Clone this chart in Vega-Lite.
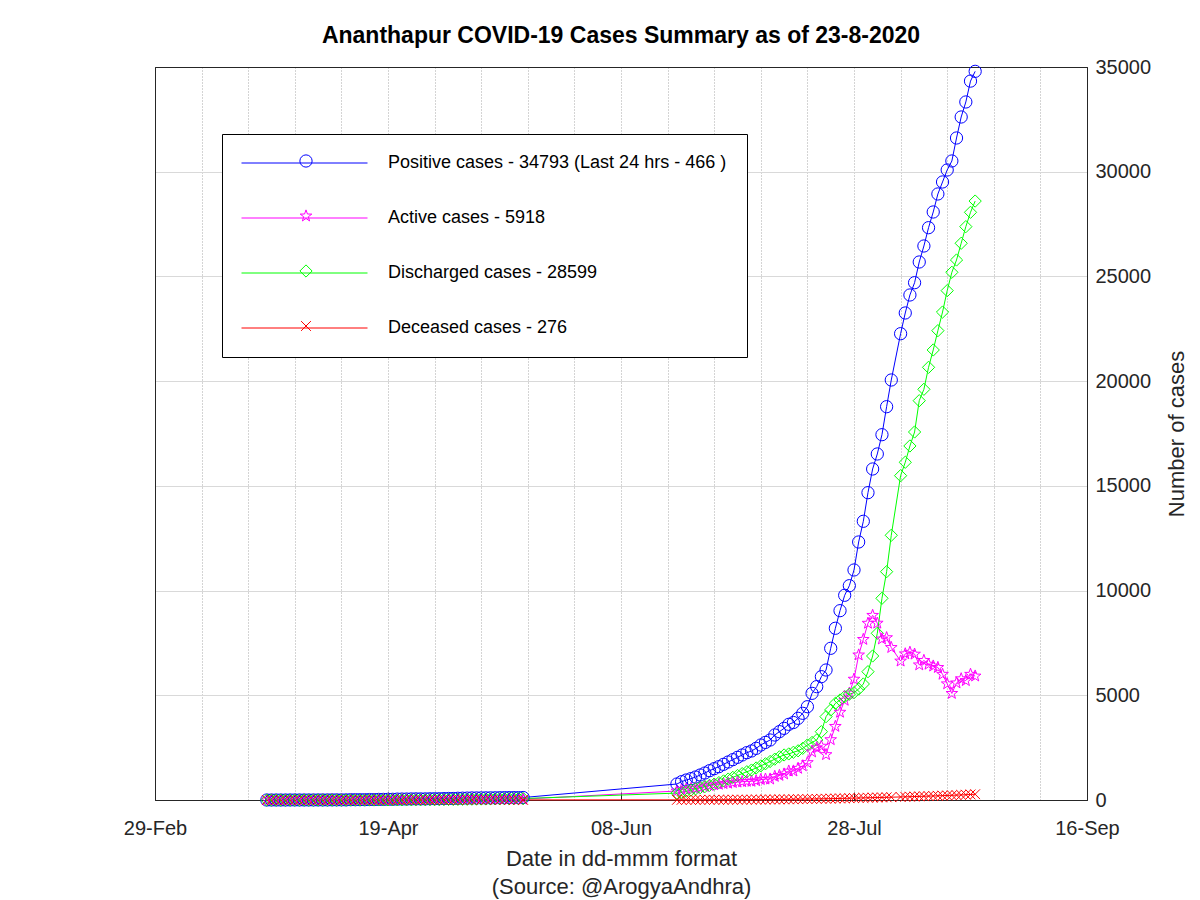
{
  "$schema": "https://vega.github.io/schema/vega-lite/v6.json",
  "width": 932,
  "height": 733,
  "autosize": {"type": "none"},
  "padding": {"left": 155, "top": 67, "right": 113, "bottom": 100},
  "background": "white",
  "config": {
    "font": "Liberation Sans",
    "view": {"stroke": "#262626", "strokeWidth": 1},
    "axis": {"labelFont": "Liberation Sans", "titleFont": "Liberation Sans", "labelColor": "#262626", "titleColor": "#262626", "titleFontWeight": "normal", "domainColor": "#262626", "domainWidth": 1}
  },
  "title": {"text": "Ananthapur COVID-19 Cases Summary as of 23-8-2020", "fontSize": 23, "font": "Liberation Sans", "fontWeight": "bold", "color": "#000000", "anchor": "middle", "baseline": "middle", "offset": 4, "dy": 6, "frame": "group"},
  "data": {"values": [
    {"date": "2020-03-24", "Positive": 0, "Active": 0, "Discharged": 0, "Deceased": 0},
    {"date": "2020-03-25", "Positive": 0, "Active": 0, "Discharged": 0, "Deceased": 0},
    {"date": "2020-03-26", "Positive": 0, "Active": 0, "Discharged": 0, "Deceased": 0},
    {"date": "2020-03-27", "Positive": 0, "Active": 0, "Discharged": 0, "Deceased": 0},
    {"date": "2020-03-28", "Positive": 0, "Active": 0, "Discharged": 0, "Deceased": 0},
    {"date": "2020-03-29", "Positive": 2, "Active": 2, "Discharged": 0, "Deceased": 0},
    {"date": "2020-03-30", "Positive": 2, "Active": 2, "Discharged": 0, "Deceased": 0},
    {"date": "2020-03-31", "Positive": 2, "Active": 2, "Discharged": 0, "Deceased": 0},
    {"date": "2020-04-01", "Positive": 2, "Active": 2, "Discharged": 0, "Deceased": 0},
    {"date": "2020-04-02", "Positive": 2, "Active": 2, "Discharged": 0, "Deceased": 0},
    {"date": "2020-04-03", "Positive": 2, "Active": 2, "Discharged": 0, "Deceased": 0},
    {"date": "2020-04-04", "Positive": 3, "Active": 3, "Discharged": 0, "Deceased": 0},
    {"date": "2020-04-05", "Positive": 3, "Active": 3, "Discharged": 0, "Deceased": 0},
    {"date": "2020-04-06", "Positive": 3, "Active": 3, "Discharged": 0, "Deceased": 0},
    {"date": "2020-04-07", "Positive": 6, "Active": 5, "Discharged": 0, "Deceased": 1},
    {"date": "2020-04-08", "Positive": 6, "Active": 4, "Discharged": 0, "Deceased": 2},
    {"date": "2020-04-09", "Positive": 6, "Active": 4, "Discharged": 0, "Deceased": 2},
    {"date": "2020-04-10", "Positive": 6, "Active": 4, "Discharged": 0, "Deceased": 2},
    {"date": "2020-04-11", "Positive": 15, "Active": 12, "Discharged": 1, "Deceased": 2},
    {"date": "2020-04-12", "Positive": 15, "Active": 12, "Discharged": 1, "Deceased": 2},
    {"date": "2020-04-13", "Positive": 15, "Active": 10, "Discharged": 2, "Deceased": 3},
    {"date": "2020-04-14", "Positive": 15, "Active": 10, "Discharged": 2, "Deceased": 3},
    {"date": "2020-04-15", "Positive": 21, "Active": 15, "Discharged": 3, "Deceased": 3},
    {"date": "2020-04-16", "Positive": 21, "Active": 15, "Discharged": 3, "Deceased": 3},
    {"date": "2020-04-17", "Positive": 27, "Active": 20, "Discharged": 4, "Deceased": 3},
    {"date": "2020-04-18", "Positive": 28, "Active": 21, "Discharged": 4, "Deceased": 3},
    {"date": "2020-04-19", "Positive": 33, "Active": 24, "Discharged": 5, "Deceased": 4},
    {"date": "2020-04-20", "Positive": 33, "Active": 23, "Discharged": 6, "Deceased": 4},
    {"date": "2020-04-21", "Positive": 42, "Active": 31, "Discharged": 7, "Deceased": 4},
    {"date": "2020-04-22", "Positive": 45, "Active": 32, "Discharged": 9, "Deceased": 4},
    {"date": "2020-04-23", "Positive": 46, "Active": 32, "Discharged": 10, "Deceased": 4},
    {"date": "2020-04-24", "Positive": 51, "Active": 35, "Discharged": 12, "Deceased": 4},
    {"date": "2020-04-25", "Positive": 53, "Active": 35, "Discharged": 14, "Deceased": 4},
    {"date": "2020-04-26", "Positive": 53, "Active": 34, "Discharged": 15, "Deceased": 4},
    {"date": "2020-04-27", "Positive": 53, "Active": 33, "Discharged": 16, "Deceased": 4},
    {"date": "2020-04-28", "Positive": 58, "Active": 36, "Discharged": 18, "Deceased": 4},
    {"date": "2020-04-29", "Positive": 61, "Active": 38, "Discharged": 19, "Deceased": 4},
    {"date": "2020-04-30", "Positive": 61, "Active": 36, "Discharged": 21, "Deceased": 4},
    {"date": "2020-05-01", "Positive": 67, "Active": 39, "Discharged": 24, "Deceased": 4},
    {"date": "2020-05-02", "Positive": 71, "Active": 41, "Discharged": 26, "Deceased": 4},
    {"date": "2020-05-03", "Positive": 71, "Active": 39, "Discharged": 28, "Deceased": 4},
    {"date": "2020-05-04", "Positive": 82, "Active": 47, "Discharged": 31, "Deceased": 4},
    {"date": "2020-05-05", "Positive": 86, "Active": 48, "Discharged": 34, "Deceased": 4},
    {"date": "2020-05-06", "Positive": 91, "Active": 50, "Discharged": 37, "Deceased": 4},
    {"date": "2020-05-07", "Positive": 98, "Active": 54, "Discharged": 40, "Deceased": 4},
    {"date": "2020-05-08", "Positive": 98, "Active": 51, "Discharged": 43, "Deceased": 4},
    {"date": "2020-05-09", "Positive": 100, "Active": 50, "Discharged": 46, "Deceased": 4},
    {"date": "2020-05-10", "Positive": 102, "Active": 49, "Discharged": 49, "Deceased": 4},
    {"date": "2020-05-11", "Positive": 103, "Active": 47, "Discharged": 52, "Deceased": 4},
    {"date": "2020-05-12", "Positive": 105, "Active": 46, "Discharged": 55, "Deceased": 4},
    {"date": "2020-05-13", "Positive": 109, "Active": 47, "Discharged": 58, "Deceased": 4},
    {"date": "2020-05-14", "Positive": 113, "Active": 48, "Discharged": 61, "Deceased": 4},
    {"date": "2020-05-15", "Positive": 114, "Active": 47, "Discharged": 63, "Deceased": 4},
    {"date": "2020-05-16", "Positive": 114, "Active": 45, "Discharged": 65, "Deceased": 4},
    {"date": "2020-05-17", "Positive": 114, "Active": 43, "Discharged": 67, "Deceased": 4},
    {"date": "2020-05-18", "Positive": 118, "Active": 44, "Discharged": 70, "Deceased": 4},
    {"date": "2020-06-20", "Positive": 764, "Active": 428, "Discharged": 330, "Deceased": 6},
    {"date": "2020-06-21", "Positive": 875, "Active": 499, "Discharged": 370, "Deceased": 6},
    {"date": "2020-06-22", "Positive": 955, "Active": 528, "Discharged": 420, "Deceased": 7},
    {"date": "2020-06-23", "Positive": 1019, "Active": 542, "Discharged": 470, "Deceased": 7},
    {"date": "2020-06-24", "Positive": 1098, "Active": 560, "Discharged": 530, "Deceased": 8},
    {"date": "2020-06-25", "Positive": 1194, "Active": 596, "Discharged": 590, "Deceased": 8},
    {"date": "2020-06-26", "Positive": 1289, "Active": 640, "Discharged": 640, "Deceased": 9},
    {"date": "2020-06-27", "Positive": 1400, "Active": 690, "Discharged": 700, "Deceased": 10},
    {"date": "2020-06-28", "Positive": 1496, "Active": 726, "Discharged": 760, "Deceased": 10},
    {"date": "2020-06-29", "Positive": 1591, "Active": 750, "Discharged": 830, "Deceased": 11},
    {"date": "2020-06-30", "Positive": 1703, "Active": 781, "Discharged": 910, "Deceased": 12},
    {"date": "2020-07-01", "Positive": 1815, "Active": 802, "Discharged": 1000, "Deceased": 13},
    {"date": "2020-07-02", "Positive": 1926, "Active": 832, "Discharged": 1080, "Deceased": 14},
    {"date": "2020-07-03", "Positive": 2038, "Active": 853, "Discharged": 1170, "Deceased": 15},
    {"date": "2020-07-04", "Positive": 2149, "Active": 873, "Discharged": 1260, "Deceased": 16},
    {"date": "2020-07-05", "Positive": 2260, "Active": 893, "Discharged": 1350, "Deceased": 17},
    {"date": "2020-07-06", "Positive": 2340, "Active": 892, "Discharged": 1430, "Deceased": 18},
    {"date": "2020-07-07", "Positive": 2467, "Active": 917, "Discharged": 1530, "Deceased": 20},
    {"date": "2020-07-08", "Positive": 2626, "Active": 975, "Discharged": 1630, "Deceased": 21},
    {"date": "2020-07-09", "Positive": 2750, "Active": 997, "Discharged": 1730, "Deceased": 23},
    {"date": "2020-07-10", "Positive": 2865, "Active": 1000, "Discharged": 1840, "Deceased": 25},
    {"date": "2020-07-11", "Positive": 3104, "Active": 1127, "Discharged": 1950, "Deceased": 27},
    {"date": "2020-07-12", "Positive": 3263, "Active": 1174, "Discharged": 2060, "Deceased": 29},
    {"date": "2020-07-13", "Positive": 3422, "Active": 1241, "Discharged": 2150, "Deceased": 31},
    {"date": "2020-07-14", "Positive": 3613, "Active": 1380, "Discharged": 2200, "Deceased": 33},
    {"date": "2020-07-15", "Positive": 3700, "Active": 1384, "Discharged": 2280, "Deceased": 36},
    {"date": "2020-07-16", "Positive": 3900, "Active": 1511, "Discharged": 2350, "Deceased": 39},
    {"date": "2020-07-17", "Positive": 4140, "Active": 1631, "Discharged": 2467, "Deceased": 42},
    {"date": "2020-07-18", "Positive": 4456, "Active": 1785, "Discharged": 2626, "Deceased": 45},
    {"date": "2020-07-19", "Positive": 5093, "Active": 2294, "Discharged": 2750, "Deceased": 49},
    {"date": "2020-07-20", "Positive": 5412, "Active": 2494, "Discharged": 2865, "Deceased": 53},
    {"date": "2020-07-21", "Positive": 5889, "Active": 2569, "Discharged": 3263, "Deceased": 57},
    {"date": "2020-07-22", "Positive": 6207, "Active": 2166, "Discharged": 3980, "Deceased": 61},
    {"date": "2020-07-23", "Positive": 7243, "Active": 2880, "Discharged": 4298, "Deceased": 65},
    {"date": "2020-07-24", "Positive": 8200, "Active": 3514, "Discharged": 4616, "Deceased": 70},
    {"date": "2020-07-25", "Positive": 9040, "Active": 4190, "Discharged": 4775, "Deceased": 75},
    {"date": "2020-07-26", "Positive": 9775, "Active": 4761, "Discharged": 4934, "Deceased": 80},
    {"date": "2020-07-27", "Positive": 10233, "Active": 5098, "Discharged": 5050, "Deceased": 85},
    {"date": "2020-07-28", "Positive": 10983, "Active": 5768, "Discharged": 5125, "Deceased": 90},
    {"date": "2020-07-29", "Positive": 12320, "Active": 6924, "Discharged": 5300, "Deceased": 96},
    {"date": "2020-07-30", "Positive": 13308, "Active": 7667, "Discharged": 5539, "Deceased": 102},
    {"date": "2020-07-31", "Positive": 14674, "Active": 8439, "Discharged": 6127, "Deceased": 108},
    {"date": "2020-08-01", "Positive": 15805, "Active": 8816, "Discharged": 6876, "Deceased": 113},
    {"date": "2020-08-02", "Positive": 16522, "Active": 8444, "Discharged": 7960, "Deceased": 118},
    {"date": "2020-08-03", "Positive": 17443, "Active": 7689, "Discharged": 9631, "Deceased": 123},
    {"date": "2020-08-04", "Positive": 18780, "Active": 7750, "Discharged": 10902, "Deceased": 128},
    {"date": "2020-08-05", "Positive": 20055, "Active": 7281, "Discharged": 12640, "Deceased": 134},
    {"date": "2020-08-07", "Positive": 22266, "Active": 6634, "Discharged": 15486, "Deceased": 146},
    {"date": "2020-08-08", "Positive": 23255, "Active": 6978, "Discharged": 16125, "Deceased": 152},
    {"date": "2020-08-09", "Positive": 24114, "Active": 7052, "Discharged": 16904, "Deceased": 158},
    {"date": "2020-08-10", "Positive": 24701, "Active": 6964, "Discharged": 17572, "Deceased": 165},
    {"date": "2020-08-11", "Positive": 25689, "Active": 6450, "Discharged": 19067, "Deceased": 172},
    {"date": "2020-08-12", "Positive": 26453, "Active": 6664, "Discharged": 19610, "Deceased": 179},
    {"date": "2020-08-13", "Positive": 27328, "Active": 6482, "Discharged": 20660, "Deceased": 186},
    {"date": "2020-08-14", "Positive": 28077, "Active": 6396, "Discharged": 21488, "Deceased": 193},
    {"date": "2020-08-15", "Positive": 28937, "Active": 6327, "Discharged": 22410, "Deceased": 200},
    {"date": "2020-08-16", "Positive": 29510, "Active": 6002, "Discharged": 23300, "Deceased": 208},
    {"date": "2020-08-17", "Positive": 30083, "Active": 5546, "Discharged": 24321, "Deceased": 216},
    {"date": "2020-08-18", "Positive": 30512, "Active": 5089, "Discharged": 25198, "Deceased": 225},
    {"date": "2020-08-19", "Positive": 31610, "Active": 5591, "Discharged": 25785, "Deceased": 234},
    {"date": "2020-08-20", "Positive": 32613, "Active": 5787, "Discharged": 26583, "Deceased": 243},
    {"date": "2020-08-21", "Positive": 33330, "Active": 5701, "Discharged": 27377, "Deceased": 252},
    {"date": "2020-08-22", "Positive": 34327, "Active": 6001, "Discharged": 28062, "Deceased": 264},
    {"date": "2020-08-23", "Positive": 34793, "Active": 5918, "Discharged": 28599, "Deceased": 276}
  ]},
  "transform": [{"fold": ["Positive", "Active", "Discharged", "Deceased"], "as": ["series", "value"]}],
  "layer": [
    {
      "mark": {"type": "line", "strokeWidth": 1},
      "encoding": {
        "x": {
          "field": "date", "type": "temporal",
          "scale": {"type": "utc", "domain": [{"year": 2020, "month": 2, "date": 29, "utc": true}, {"year": 2020, "month": 9, "date": 16, "utc": true}]},
          "axis": {
            "orient": "top",
            "values": [
              {"year": 2020, "month": 3, "date": 10, "utc": true},
              {"year": 2020, "month": 3, "date": 20, "utc": true},
              {"year": 2020, "month": 3, "date": 30, "utc": true},
              {"year": 2020, "month": 4, "date": 9, "utc": true},
              {"year": 2020, "month": 4, "date": 19, "utc": true},
              {"year": 2020, "month": 4, "date": 29, "utc": true},
              {"year": 2020, "month": 5, "date": 9, "utc": true},
              {"year": 2020, "month": 5, "date": 19, "utc": true},
              {"year": 2020, "month": 5, "date": 29, "utc": true},
              {"year": 2020, "month": 6, "date": 8, "utc": true},
              {"year": 2020, "month": 6, "date": 18, "utc": true},
              {"year": 2020, "month": 6, "date": 28, "utc": true},
              {"year": 2020, "month": 7, "date": 8, "utc": true},
              {"year": 2020, "month": 7, "date": 18, "utc": true},
              {"year": 2020, "month": 7, "date": 28, "utc": true},
              {"year": 2020, "month": 8, "date": 7, "utc": true},
              {"year": 2020, "month": 8, "date": 17, "utc": true},
              {"year": 2020, "month": 8, "date": 27, "utc": true},
              {"year": 2020, "month": 9, "date": 6, "utc": true}
            ],
            "grid": true, "gridColor": "#a8a8a8", "gridDash": [1, 2], "gridWidth": 1,
            "labels": false, "ticks": false, "domain": true, "title": null
          }
        },
        "y": {
          "field": "value", "type": "quantitative",
          "scale": {"domain": [0, 35000], "nice": false},
          "axis": {
            "orient": "right",
            "values": [0, 5000, 10000, 15000, 20000, 25000, 30000, 35000],
            "format": "d",
            "grid": false, "ticks": false, "domain": true,
            "labelFontSize": 20, "labelPadding": 8, "labelColor": "#262626",
            "title": "Number of cases", "titleFontSize": 22, "titleAngle": 270, "titlePadding": 38
          }
        },
        "stroke": {
          "field": "series", "type": "nominal",
          "sort": ["Positive", "Active", "Discharged", "Deceased"],
          "scale": {"range": ["#0000ff", "#ff00ff", "#00ff00", "#ff0000"]},
          "legend": {
            "orient": "top-left", "offset": 67, "direction": "vertical", "zindex": 0,
            "title": null, "padding": 20, "strokeColor": "#000000", "fillColor": "#ffffff", "cornerRadius": 0,
            "labelFont": "Liberation Sans", "labelFontSize": 18, "labelColor": "#000000", "labelLimit": 0,
            "labelOffset": 128, "rowPadding": 37,
            "symbolType": "M-9.5,0H116.5", "symbolSize": 4, "symbolStrokeWidth": 1,
            "labelExpr": "datum.value == 'Positive' ? 'Positive cases - 34793 (Last 24 hrs - 466 )' : datum.value == 'Active' ? 'Active cases - 5918' : datum.value == 'Discharged' ? 'Discharged cases - 28599' : 'Deceased cases - 276'"
          }
        }
      }
    },
    {
      "mark": {"type": "point", "filled": false, "strokeWidth": 1, "size": 150, "opacity": 1},
      "encoding": {
        "x": {
          "field": "date", "type": "temporal",
          "axis": {
            "orient": "bottom",
            "values": [
              {"year": 2020, "month": 2, "date": 29, "utc": true},
              {"year": 2020, "month": 4, "date": 19, "utc": true},
              {"year": 2020, "month": 6, "date": 8, "utc": true},
              {"year": 2020, "month": 7, "date": 28, "utc": true},
              {"year": 2020, "month": 9, "date": 16, "utc": true}
            ],
            "labelExpr": "utcFormat(datum.value, '%d-%b')",
            "grid": false, "domain": true,
            "ticks": true, "tickSize": -8, "tickColor": "#262626", "tickWidth": 1,
            "labelFontSize": 20, "labelPadding": 26, "labelColor": "#262626", "labelFlush": false,
            "title": ["Date in dd-mmm format", "(Source: @ArogyaAndhra)"],
            "titleFontSize": 22, "titleLineHeight": 28, "titlePadding": 10
          }
        },
        "y": {
          "field": "value", "type": "quantitative",
          "axis": {
            "orient": "left",
            "values": [5000, 10000, 15000, 20000, 25000, 30000],
            "grid": true, "gridColor": "#d9d9d9", "gridWidth": 1,
            "ticks": false, "domain": true, "labels": false, "title": null
          }
        },
        "color": {
          "field": "series", "type": "nominal",
          "scale": {"domain": ["Positive", "Active", "Discharged", "Deceased"], "range": ["#0000ff", "#ff00ff", "#00ff00", "#ff0000"]},
          "legend": {
            "orient": "none", "legendX": 142, "legendY": 85, "direction": "vertical", "zindex": 1,
            "title": null, "padding": 0, "labelFontSize": 18, "labelExpr": "''", "rowPadding": 37,
            "symbolSize": 150, "symbolStrokeWidth": 1, "symbolFillColor": "transparent"
          }
        },
        "shape": {
          "field": "series", "type": "nominal",
          "scale": {"domain": ["Positive", "Active", "Discharged", "Deceased"], "range": ["circle", "M0,-1L0.235,-0.324L0.951,-0.309L0.38,0.124L0.588,0.809L0,0.4L-0.588,0.809L-0.38,0.124L-0.951,-0.309L-0.235,-0.324Z", "diamond", "M-0.8,-0.8L0.8,0.8M0.8,-0.8L-0.8,0.8"]},
          "legend": {
            "orient": "none", "legendX": 142, "legendY": 85, "direction": "vertical", "zindex": 1,
            "title": null, "padding": 0, "labelFontSize": 18, "labelExpr": "''", "rowPadding": 37,
            "symbolSize": 150, "symbolStrokeWidth": 1, "symbolFillColor": "transparent"
          }
        }
      }
    }
  ],
  "resolve": {"axis": {"x": "independent", "y": "independent"}}
}
